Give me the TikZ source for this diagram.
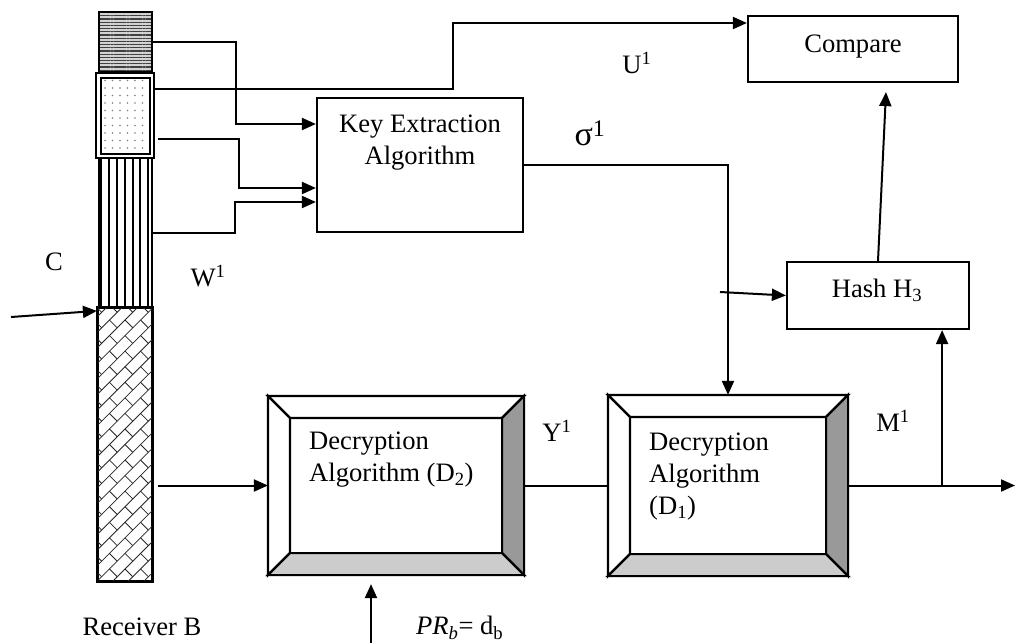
\documentclass[tikz,border=0pt]{standalone}
\usepackage{fontspec}
\setmainfont{Liberation Serif}
\usetikzlibrary{arrows.meta,calc,patterns.meta}

\tikzset{
  box/.style={draw, line width=2.2pt, rectangle, inner sep=0pt, fill=white},
  wire/.style={line width=2pt},
  arr/.style={wire, -{Triangle[length=14pt,width=12pt]}},
  txt/.style={inner sep=0pt, font=\fontsize{26.6}{32}\selectfont, align=left},
  hlines/.style={preaction={fill=gray!35}, pattern={Lines[distance=3.2pt, line width=1.1pt]}, pattern color=black!75},
  dotfill/.style={pattern={Dots[distance=7.5pt, radius=0.8pt]}, pattern color=gray},
  vlines/.style={pattern={Lines[angle=90, distance=7.8pt, line width=2pt]}, pattern color=black},
}

% bevelled frame drawn over a rectangular node: shaded right and bottom faces
\newcommand\bevelframe[1]{%
  \coordinate (#1-inw) at ($(#1.north west)+(22,22)$);
  \coordinate (#1-ine) at ($(#1.north east)+(-22,22)$);
  \coordinate (#1-ise) at ($(#1.south east)+(-22,-22)$);
  \coordinate (#1-isw) at ($(#1.south west)+(22,-22)$);
  \filldraw[line width=2.2pt, fill=white] (#1.north west) -- (#1.north east) -- (#1-ine) -- (#1-inw) -- cycle;
  \filldraw[line width=2.2pt, fill=white] (#1.north west) -- (#1-inw) -- (#1-isw) -- (#1.south west) -- cycle;
  \filldraw[line width=2.2pt, fill=black!40] (#1.north east) -- (#1.south east) -- (#1-ise) -- (#1-ine) -- cycle;
  \filldraw[line width=2.2pt, fill=black!20] (#1.south west) -- (#1.south east) -- (#1-ise) -- (#1-isw) -- cycle;
  \draw[line width=2.2pt] (#1-inw) rectangle (#1-ise);
}

\begin{document}
\begin{tikzpicture}[x=1pt,y=-1pt]
\useasboundingbox (0,0) rectangle (1017,643);

% ---- stacked ciphertext column ----
\node[box, hlines, minimum width=53pt, minimum height=60pt] (seg1) at (125.5,42) {};
\node[box, line width=2.6pt, minimum width=58pt, minimum height=85pt] (seg2o) at (125,115.5) {};
\node[box, dotfill, line width=2.2pt, minimum width=49pt, minimum height=76pt] (seg2) at (125.5,116) {};
\node[box, vlines, minimum width=53pt, minimum height=150pt] (seg3) at (125.5,233) {};
\node[box, minimum width=54pt, minimum height=273pt] (seg4) at (125,444.5) {};
\begin{scope}
  \clip (seg4.south west) rectangle (seg4.north east);
  \begin{scope}[shift={(seg4.center)}, rotate=45]
    \foreach \j in {-16,...,16} {
      \draw[line width=0.8pt, black!85] (-220,\j*11) -- (220,\j*11);
      \pgfmathsetmacro\brickoff{mod(\j+100,2)*11}
      \foreach \k in {-10,...,10}
        \draw[line width=0.8pt, black!85] (\k*22+\brickoff,\j*11) -- (\k*22+\brickoff,\j*11+11);
    }
  \end{scope}
\end{scope}
\draw[line width=2.2pt] (seg4.south west) rectangle (seg4.north east);

% ---- processing blocks ----
\node[box, minimum width=206pt, minimum height=134pt] (key) at (420,165) {};
\node[box, minimum width=210pt, minimum height=66pt] (cmp) at (853,49) {};
\node[box, minimum width=182pt, minimum height=67pt] (hash) at (878,295.5) {};
\node[box, minimum width=254pt, minimum height=177pt] (d2) at (396,485.5) {};
\node[box, minimum width=238pt, minimum height=179pt] (d1) at (728,485.5) {};
\bevelframe{d2}
\bevelframe{d1}

% ---- block texts ----
\node[txt, align=center] (keytxt) at (420,143) {Key Extraction\\Algorithm};
\node[txt] (cmptxt) at (853,47) {Compare};
\node[txt] (hashtxt) at (877,290) {Hash H\textsubscript{3}};
\node[txt, anchor=west] (d2txt) at (309,460) {Decryption\\Algorithm (D\textsubscript{2})};
\node[txt, anchor=west] (d1txt) at (649,477) {Decryption\\Algorithm\\(D\textsubscript{1})};

% ---- free labels ----
\node[txt] (lblU) at (637,63) {U\textsuperscript{1}};
\node[inner sep=0pt, font=\fontsize{34}{40}\selectfont] (lblS) at (590,133) {σ\textsuperscript{1}};
\node[txt] (lblY) at (557,431) {Y\textsuperscript{1}};
\node[txt] (lblM) at (893,421) {M\textsuperscript{1}};
\node[txt] (lblC) at (54,262) {C};
\node[txt] (lblW) at (208,276) {W\textsuperscript{1}};
\node[txt] (lblR) at (142,627) {Receiver B};
\node[txt, anchor=west] (lblP) at (416,628) {\textit{PR\textsubscript{b}}= d\textsubscript{b}};

% ---- free line ends ----
\coordinate (cin) at (11,317);
\coordinate (hin) at (720,292);
\coordinate (prb) at (371,643);
\coordinate (out) at (1015,485.5);
\coordinate (split) at ($(d1.east)+(94,0)$);

% ---- connectors ----
\draw[arr] (seg1.east) -- ++(83,0) |- ($(key.west)+(0,-41)$);
\draw[arr] ($(seg2o.north east)+(0,17)$) -- ++(298,0) |- ($(cmp.west)+(0,-26)$);
\draw[arr] ($(seg2o.south east)+(3,-20)$) -- ++(81,0) |- ($(key.west)+(0,23)$);
\draw[arr] (seg3.east) -- ++(82,0) |- ($(key.west)+(0,37)$);
\draw[arr] (key.east) -| (d1.north);
\draw[arr] (hin) -- (hash.west);
\draw[arr] (hash.north) -- ($(cmp.south)+(33,9)$);
\draw[wire] (d2.east) -- (d1.west);
\draw[arr] (d1.east) -- (out);
\draw[arr] (split) -- (split |- hash.south);
\draw[arr] ($(seg4.east |- d2.west)+(5,0)$) -- (d2.west);
\draw[arr] (prb) -- ($(prb |- d2.south)+(0,9)$);
\draw[arr] (cin) -- ($(seg4.north west)+(0,4)$);
\end{tikzpicture}
\end{document}
